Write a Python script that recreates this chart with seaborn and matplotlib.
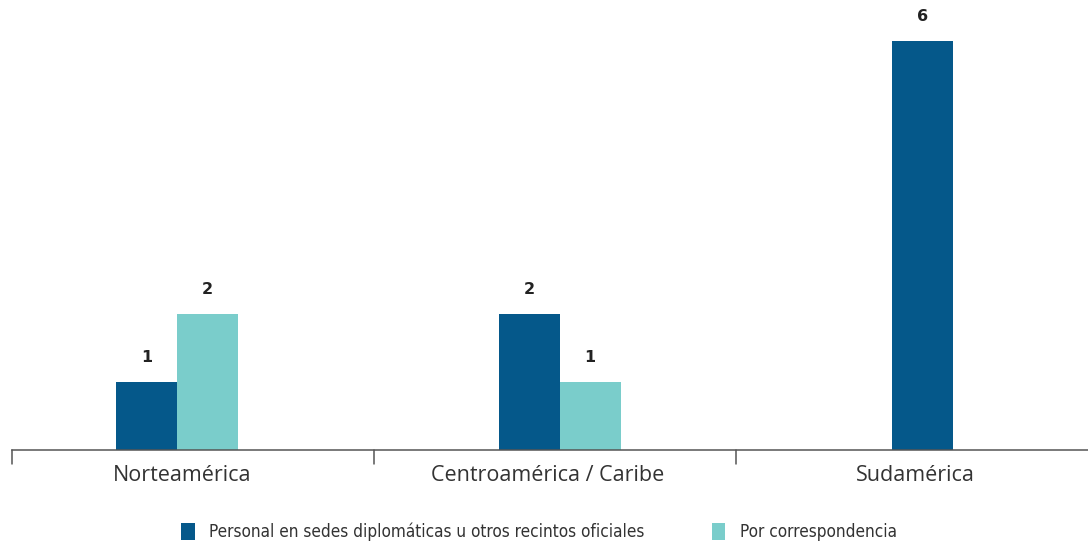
import matplotlib
matplotlib.use("Agg")
import matplotlib.pyplot as plt
import seaborn as sns
from matplotlib.patches import Patch
from matplotlib import font_manager

categories = ["Norteamérica", "Centroamérica / Caribe", "Sudamérica"]
series_names = ["Personal en sedes diplomáticas u otros recintos oficiales", "Por correspondencia"]
personal = [1, 2, 6]
correspondencia = [2, 1, None]

dark = "#05588A"
teal = "#7ACDCB"

sns.set_theme(style="white")
plt.rcParams['font.family'] = ['Open Sans', 'DejaVu Sans']

fig = plt.figure(figsize=(10.88, 5.44), dpi=100)
ax = fig.add_axes([12/1088, 94/544, 1 - 12/1088, 450/544])

w = 0.168
group_shift = [-0.044, 0.013, 0.015]
label_shift = [-0.03, -0.02, -0.005]
for i, cat in enumerate(categories):
    vals = [(personal[i], dark), (correspondencia[i], teal)]
    present = [(v, c) for v, c in vals if v is not None]
    n = len(present)
    for j, (v, c) in enumerate(present):
        x = i + group_shift[i] + (j - (n - 1) / 2) * w
        ax.bar(x, v, width=w, color=c, linewidth=0)
        ax.annotate(str(v), (x, v), xytext=(0, 12), textcoords="offset points",
                    ha="center", va="bottom", fontsize=11.5, fontweight="heavy",
                    family="DejaVu Sans", color="#222222")

ax.set_xlim(-0.5, 2.472)
ax.set_ylim(0, 6.6)
ax.set_yticks([])
ax.set_xticks([i + s for i, s in enumerate(label_shift)])
ax.set_xticklabels(categories, fontsize=15.5, color="#333333")
ax.tick_params(axis="x", length=0, pad=11)
for b in [-0.5, 0.5, 1.5]:
    ax.plot([b, b], [0, -0.2], color="#555555", lw=1.1, clip_on=False)
for s in ["top", "right", "left"]:
    ax.spines[s].set_visible(False)
ax.spines["bottom"].set_color("#555555")
ax.spines["bottom"].set_linewidth(1.1)

prop = font_manager.FontProperties(family="DejaVu Sans", stretch="condensed", size=12.3)
handles = [Patch(facecolor=dark, edgecolor="none"), Patch(facecolor=teal, edgecolor="none")]
fig.legend(handles, series_names, loc="center", bbox_to_anchor=(539/1088, 1 - 532/544),
           ncol=2, frameon=False, handlelength=0.8, handleheight=1.2, handletextpad=0.85,
           columnspacing=3.9, prop=prop)
for t in fig.legends[0].get_texts():
    t.set_color("#333333")

fig.savefig("out.png", dpi=100)
